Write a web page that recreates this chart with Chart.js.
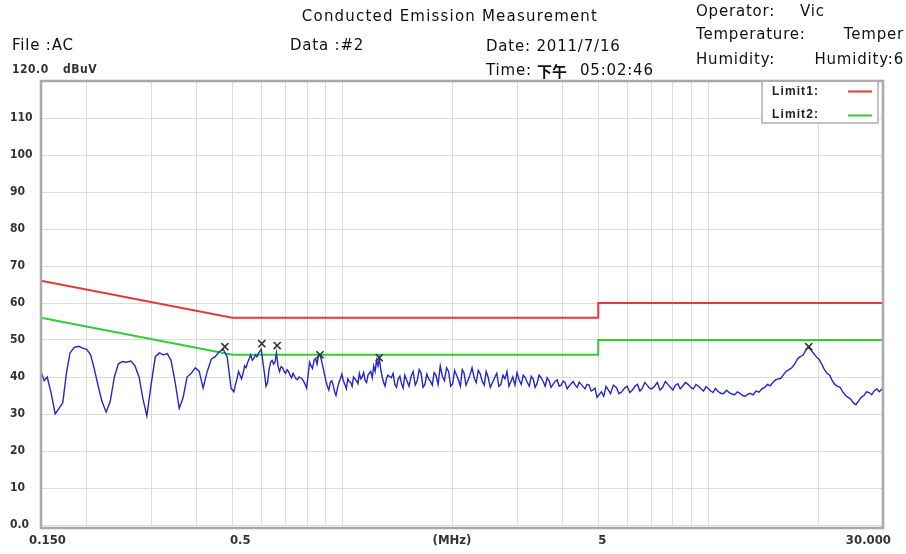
<!DOCTYPE html>
<html><head><meta charset="utf-8">
<script src="https://cdn.jsdelivr.net/npm/chart.js@4.4.1/dist/chart.umd.min.js"></script>
<style>html,body{margin:0;padding:0;background:#fff}#wrap{width:906px;height:554px}</style>
</head><body><div id="wrap"><canvas id="c" width="906" height="554"></canvas></div>
<script>
// ---- data (MHz / dBuV) ----
const band1Freq = [0.150,0.153,0.156,0.160,0.164,0.168,0.172,0.176,0.180,0.185,0.190,0.195,0.200,0.205,0.210,0.215,0.220,0.226,0.232,0.238,0.244,0.250,0.257,0.264,0.271,0.278,0.285,0.292,0.300,0.308,0.316,0.324,0.332,0.340,0.349,0.358,0.367,0.376,0.386,0.396,0.406,0.416,0.427,0.438,0.449,0.460,0.472,0.484,0.496];
const band1Level = [41.5,39.0,40.0,35.5,30.0,31.5,33.0,41.0,46.5,48.0,48.3,47.8,47.5,46.0,42.0,37.5,33.5,30.5,33.5,40.0,43.5,44.2,44.0,44.3,43.0,40.0,34.0,29.5,38.0,45.5,46.5,46.0,46.3,44.5,38.5,31.5,34.5,40.0,41.0,42.5,41.5,37.0,41.5,44.8,45.5,46.8,47.5,45.5,37.0];
const band2Freq = [0.505,0.515,0.525,0.535,0.545,0.556,0.567,0.578,0.589,0.600,0.612,0.624,0.636,0.648,0.660,0.673,0.686,0.699,0.712,0.726,0.740,0.754,0.768,0.783,0.798,0.813,0.828,0.844,0.860,0.876,0.892,0.909,0.926,0.943,0.960,0.978,0.996,1.015,1.034,1.053,1.072,1.092,1.112,1.132,1.153,1.174,1.195,1.217,1.239,1.261,1.284,1.307,1.330];
const band2Level = [36.0,39.5,40.5,41.0,42.5,45.0,44.5,46.0,46.3,47.5,41.0,38.5,44.0,43.5,46.5,41.5,42.5,41.0,41.5,39.8,40.2,39.3,39.8,38.8,37.0,44.0,42.3,45.0,46.0,44.5,41.0,37.5,38.5,37.8,35.0,38.5,40.8,38.0,39.5,38.5,40.0,39.0,41.0,40.0,39.0,40.5,41.5,43.0,44.5,45.0,40.0,37.5,40.5];
const band2MidFreq = [0.51,0.52,0.53,0.54,0.55,0.5615,0.5725,0.5835,0.5945,0.606,0.618,0.63,0.642,0.654,0.6665,0.6795,0.6925,0.7055,0.719,0.733,0.747,0.761,0.7755,0.7905,0.8055,0.8205,0.836,0.852,0.868,0.884,0.9005,0.9175,0.9345,0.9515,0.969,0.987,1.0055,1.0245,1.0435,1.0625,1.082,1.102,1.122,1.1425,1.1635,1.1845,1.206,1.228,1.25,1.2725,1.2955,1.3185];
const band2MidLevel = [38.0,41.5,39.5,43.0,43.8,46.0,45.0,45.5,47.0,44.0,37.5,42.0,44.5,44.0,43.0,42.8,41.5,42.0,40.5,41.0,39.5,40.0,39.5,38.0,40.5,43.0,44.5,43.5,46.0,42.8,39.0,36.5,39.0,36.0,37.0,39.5,39.0,36.8,38.8,37.5,39.5,38.2,39.5,41.2,38.5,41.0,39.8,41.5,43.0,42.0,38.5,39.5];
const band3Freq = [1.36,1.39,1.42,1.45,1.48,1.52,1.56,1.60,1.64,1.68,1.72,1.76,1.80,1.85,1.90,1.95,2.00,2.05,2.10,2.15,2.20,2.26,2.32,2.38,2.44,2.50,2.57,2.64,2.71,2.78,2.85,2.92,3.00,3.08,3.16,3.24,3.32,3.40,3.49,3.58,3.67,3.76,3.86,3.96,4.06,4.16,4.27,4.38,4.49,4.60,4.72,4.84,4.96];
const band3Level = [39.8,38.0,39.5,38.2,40.5,37.5,41.5,39.0,41.0,38.0,39.5,37.8,40.5,43.0,39.0,41.5,38.2,40.5,37.5,41.0,39.0,42.5,38.5,40.8,37.8,40.0,38.5,41.0,38.0,39.5,37.5,40.0,41.2,38.0,39.8,37.5,39.5,38.2,39.8,37.5,39.0,38.0,39.2,37.8,38.5,37.5,38.8,37.2,38.0,36.8,37.8,36.5,34.5];
const band3MidFreq = [1.375,1.405,1.435,1.465,1.50,1.54,1.58,1.62,1.66,1.70,1.74,1.78,1.825,1.875,1.925,1.975,2.025,2.075,2.125,2.175,2.23,2.29,2.35,2.41,2.47,2.535,2.605,2.675,2.745,2.815,2.885,2.96,3.04,3.12,3.20,3.28,3.36,3.445,3.535,3.625,3.715,3.81,3.91,4.01,4.11,4.215,4.325,4.435,4.545,4.66,4.78,4.90];
const band3MidLevel = [41.0,37.2,40.2,37.0,39.0,40.2,37.8,42.0,37.2,40.8,38.8,41.2,38.0,40.2,42.5,37.5,41.8,39.2,42.0,37.8,40.5,39.8,41.8,38.8,41.5,37.2,39.8,37.5,40.5,41.5,38.8,37.8,39.2,40.5,38.5,40.2,37.2,40.5,38.8,39.8,37.2,38.8,37.5,38.9,36.8,38.2,37.8,38.6,37.4,38.0,36.2,37.0];
const band4Freq = [5.1,5.25,5.4,5.6,5.8,6.0,6.2,6.4,6.6,6.8,7.0,7.25,7.5,7.75,8.0,8.25,8.5,8.8,9.1,9.4,9.7,10.0,10.3,10.6,11.0,11.4,11.8,12.2,12.6,13.0,13.5,14.0,14.5,15.0,15.5,16.0,16.6,17.2,17.8,18.4,19.0,19.7,20.4,21.1,21.8,22.5,23.3,24.1,24.9,25.7,26.6,27.5,28.4,29.3,30.0];
const band4Level = [36.0,37.5,35.5,37.2,36.0,37.5,36.5,38.0,37.0,37.8,36.8,38.5,37.2,38.0,36.5,38.2,37.5,38.0,36.8,37.5,36.2,36.8,35.8,36.2,35.5,35.8,35.2,35.6,34.8,35.6,36.2,36.8,38.0,38.5,39.5,40.5,42.0,43.5,45.5,47.0,47.5,45.5,43.5,41.0,39.0,37.5,36.0,34.5,33.0,33.5,35.0,35.8,36.3,36.0,37.0];
const band4MidFreq = [5.175,5.325,5.5,5.7,5.9,6.1,6.3,6.5,6.7,6.9,7.125,7.375,7.625,7.875,8.125,8.375,8.65,8.95,9.25,9.55,9.85,10.15,10.45,10.8,11.2,11.6,12.0,12.4,12.8,13.25,13.75,14.25,14.75,15.25,15.75,16.3,16.9,17.5,18.1,18.7,19.35,20.05,20.75,21.45,22.15,22.9,23.7,24.5,25.3,26.15,27.05,27.95,28.85];
const band4MidLevel = [34.8,36.5,37.8,35.5,37.0,35.8,37.5,36.2,38.5,37.0,37.5,36.5,38.8,37.2,37.8,36.8,38.5,37.2,38.0,36.8,37.4,36.2,36.9,35.6,36.4,35.4,36.0,35.0,35.3,35.2,35.9,37.2,37.6,39.2,39.6,41.5,42.5,44.8,45.8,48.0,46.5,44.8,42.0,40.5,38.0,37.2,35.0,34.0,32.5,34.5,36.0,35.2,36.8];
const limit1Freq  = [0.15, 0.5, 5, 5, 30];
const limit1Level = [66, 56, 56, 60, 60];
const limit2Freq  = [0.15, 0.5, 5, 5, 30];
const limit2Level = [56, 46, 46, 50, 50];
const peakFreq  = [0.477, 0.602, 0.663, 0.868, 1.26, 18.8];
const peakLevel = [48.2, 49.0, 48.5, 46.0, 45.2, 48.2];
const gridFreqs = [0.15,0.2,0.3,0.4,0.5,0.6,0.7,0.8,0.9,1,2,3,4,5,6,7,8,9,10,20,30];
const xLabelFreqs = [0.15, 0.5, 5, 30];
const xLabelTexts = ['0.150', '0.5', '5', '30.000'];
const yMin = 0, yMax = 120, yStep = 10;

const pts = (fx, fy) => fx.map((f, i) => ({x: f, y: fy[i]}));
const traceData = [].concat(
  pts(band1Freq, band1Level), pts(band2Freq, band2Level), pts(band2MidFreq, band2MidLevel),
  pts(band3Freq, band3Level), pts(band3MidFreq, band3MidLevel),
  pts(band4Freq, band4Level), pts(band4MidFreq, band4MidLevel)
).sort((a, b) => a.x - b.x);

function spanText(ctx, text, x0, x1, yc, font, color) {
  ctx.save();
  ctx.font = font; ctx.letterSpacing = '0px';
  const w = ctx.measureText(text).width;
  const n = Array.from(text).length;
  ctx.letterSpacing = (n > 1 ? (x1 - x0 - w) / (n - 1) : 0) + 'px';
  ctx.fillStyle = color || '#111';
  ctx.textBaseline = 'middle'; ctx.textAlign = 'left';
  ctx.fillText(text, x0, yc);
  ctx.restore();
}
function txt(ctx, text, x, yc, font, spacing, align, color) {
  ctx.save();
  ctx.font = font; ctx.letterSpacing = (spacing || 0) + 'px';
  ctx.fillStyle = color || '#111';
  ctx.textBaseline = 'middle'; ctx.textAlign = align || 'left';
  ctx.fillText(text, x, yc);
  ctx.restore();
}

const decor = {
  id: 'decor',
  afterDraw(chart) {
    const ctx = chart.ctx, a = chart.chartArea, xs = chart.scales.x;
    ctx.save();
    ctx.strokeStyle = '#a9a9a9'; ctx.lineWidth = 2.5;
    ctx.strokeRect(a.left, a.top, a.right - a.left, a.bottom - a.top + 3);
    const ds = chart.data.datasets;
    ctx.fillStyle = '#fff';
    ctx.fillRect(762, a.top + 1, 116, 41);
    ctx.strokeStyle = '#b0b0b0'; ctx.lineWidth = 1.5;
    ctx.strokeRect(762, a.top, 116, 42);
    ctx.lineWidth = 2;
    ctx.strokeStyle = ds[2].borderColor; ctx.beginPath(); ctx.moveTo(848, 91.5); ctx.lineTo(872, 91.5); ctx.stroke();
    ctx.strokeStyle = ds[3].borderColor; ctx.beginPath(); ctx.moveTo(848, 115.5); ctx.lineTo(872, 115.5); ctx.stroke();
    ctx.restore();
    const lf = "bold 12px 'Liberation Sans', Arial, sans-serif";
    spanText(ctx, ds[2].label + ':', 772, 818, 92, lf, '#222');
    spanText(ctx, ds[3].label + ':', 772, 818, 115, lf, '#222');
    // x labels
    const xf = "bold 13px 'DejaVu Sans Condensed', 'Liberation Sans Narrow', sans-serif";
    const px = xLabelFreqs.map(f => xs.getPixelForValue(f));
    txt(ctx, xLabelTexts[0], px[0] - 12, 541, xf, 0, 'left', '#333');
    txt(ctx, xLabelTexts[1], px[1] + 8, 541, xf, 0, 'center', '#333');
    txt(ctx, xLabelTexts[2], px[2] + 4, 541, xf, 0, 'center', '#333');
    txt(ctx, xLabelTexts[3], px[3] + 8, 541, xf, 0, 'right', '#333');
    txt(ctx, '(MHz)', 452, 541, xf, 0, 'center', '#333');
    // header
    const hf = "15px 'DejaVu Sans', sans-serif", sp = 0.8;
    txt(ctx, 'Conducted Emission Measurement', 450, 17, hf, 1.2, 'center');
    txt(ctx, 'File :AC', 12, 46, hf, sp);
    txt(ctx, 'Data :#2', 290, 46, hf, sp);
    txt(ctx, 'Date: 2011/7/16', 486, 47, hf, sp);
    txt(ctx, 'Time:', 486, 71, hf, sp);
    txt(ctx, '下午', 537, 71, "bold 15px 'Noto Sans CJK SC', sans-serif", 0);
    txt(ctx, '05:02:46', 580, 71, hf, sp);
    txt(ctx, 'Operator:', 696, 12, hf, sp);
    txt(ctx, 'Vic', 800, 12, hf, sp);
    txt(ctx, 'Temperature:', 696, 35, hf, sp);
    txt(ctx, 'Temper', 904, 35, hf, sp, 'right');
    txt(ctx, 'Humidity:', 696, 60, hf, sp);
    txt(ctx, 'Humidity:6', 904, 60, hf, sp, 'right');
    const yf = "bold 12px 'DejaVu Sans Condensed', 'Liberation Sans Narrow', sans-serif";
    txt(ctx, yMax.toFixed(1), 12, 70, yf, 0.5, 'left', '#333');
    txt(ctx, 'dBuV', 63, 70, yf, 0.5, 'left', '#333');
  }
};

new Chart(document.getElementById('c'), {
  type: 'line',
  data: {
    datasets: [
      { label: 'Peaks', type: 'scatter', data: pts(peakFreq, peakLevel), showLine: false,
        pointStyle: 'crossRot', pointRadius: 5, pointBorderColor: '#333', pointBorderWidth: 1.6, borderColor: '#333', backgroundColor: '#333' },
      { label: 'Trace', data: traceData, borderColor: '#2626cf', borderWidth: 1.4, pointRadius: 0, tension: 0, fill: false },
      { label: 'Limit1', data: pts(limit1Freq, limit1Level), borderColor: '#e53935', borderWidth: 2, pointRadius: 0, tension: 0, fill: false },
      { label: 'Limit2', data: pts(limit2Freq, limit2Level), borderColor: '#33cc33', borderWidth: 2, pointRadius: 0, tension: 0, fill: false }
    ]
  },
  options: {
    responsive: false, animation: false, devicePixelRatio: 1,
    layout: { padding: { left: 10, right: 23, top: 81, bottom: 29 } },
    plugins: { legend: { display: false }, tooltip: { enabled: false } },
    scales: {
      x: {
        type: 'logarithmic', min: 0.15, max: 30,
        afterBuildTicks: s => { s.ticks = gridFreqs.map(v => ({ value: v })); },
        afterFit: s => { s.height = 0; },
        ticks: { display: false },
        grid: { color: '#dcdcdc', lineWidth: 1, drawTicks: false },
        border: { display: false }
      },
      y: {
        min: yMin, max: yMax,
        afterFit: s => { s.width = 31; },
        ticks: {
          stepSize: yStep, crossAlign: 'far', padding: 0, color: '#333',
          font: { family: "'DejaVu Sans Condensed', 'Liberation Sans Narrow', sans-serif", weight: 'bold', size: 12 },
          callback: v => v === yMax ? '' : (v === 0 ? '0.0' : String(v))
        },
        grid: { color: '#dcdcdc', lineWidth: 1, drawTicks: false },
        border: { display: false }
      }
    }
  },
  plugins: [decor]
});
</script></body></html>
